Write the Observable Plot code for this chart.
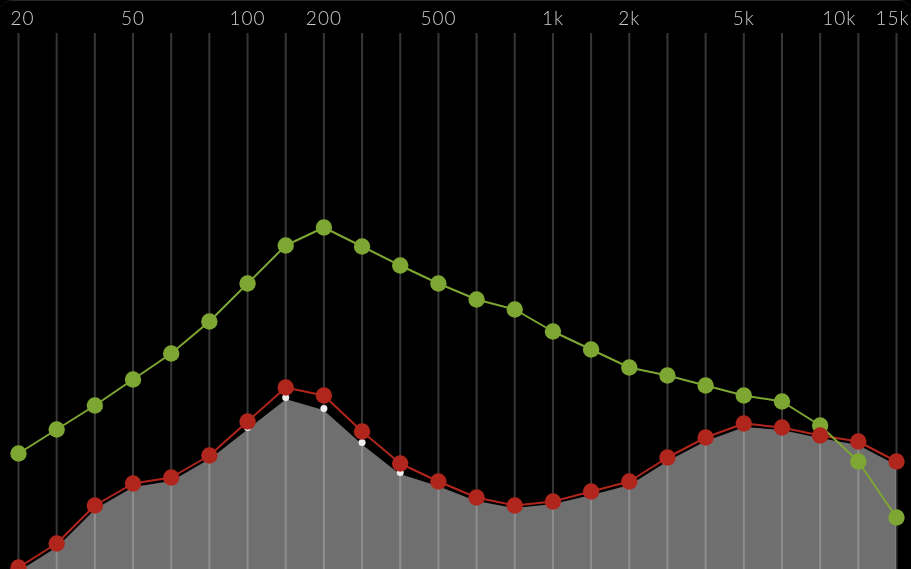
<!DOCTYPE html>
<html>
<head>
<meta charset="utf-8">
<script src="https://cdn.jsdelivr.net/npm/d3@7"></script>
<script src="https://cdn.jsdelivr.net/npm/@observablehq/plot@0.6"></script>
<style>
  html, body { margin: 0; padding: 0; background: #000; }
  #frame { width: 911px; height: 569px; overflow: hidden; background: #000;
           border-top: 1px solid #262626; border-radius: 12px 12px 0 0; box-sizing: border-box; position: relative; }
  #chart { position: absolute; top: -1px; left: 0; }
  svg { display: block; }
  svg g[aria-label="text"] { filter: grayscale(1); }
</style>
</head>
<body>
<div id="frame"><div id="chart"></div></div>
<script>
// 24 frequency bands (index positions on the x axis)
const bands = ["20","30","40","50","65","80","100","150","200","300","400","500",
               "650","800","1k","1.5k","2k","3k","4k","5k","6.5k","8k","12k","15k"];
// series levels (relative units)
const greenLevels = [11.6,14.0,16.4,19.0,21.6,24.8,28.6,32.4,34.2,32.3,30.4,28.6,
                     27.0,26.0,23.8,22.0,20.2,19.4,18.4,17.4,16.8,14.4,10.8,5.2];
const redLevels   = [0.2,2.6,6.4,8.6,9.2,11.4,14.8,18.2,17.4,13.8,10.6,8.8,
                     7.2,6.4,6.8,7.8,8.8,11.2,13.2,14.6,14.2,13.4,12.8,10.8];
const grayLevels  = [0.0,2.4,6.2,8.4,9.0,11.2,14.2,17.2,16.1,12.7,9.7,8.5,
                     7.0,6.3,6.7,7.6,8.6,11.0,13.0,14.4,14.1,13.3,12.6,10.6];
// tick labels and their band-index positions
const tickLabels = ["20","50","100","200","500","1k","2k","5k","10k","15k"];
const tickPos    = [0,3,6,8,11,14,16,19,21.5,23];

const data = bands.map((b, i) => ({i, band: b, green: greenLevels[i], red: redLevels[i], gray: grayLevels[i]}));
const ticks = tickLabels.map((t, k) => ({label: t, pos: tickPos[k]}));
const last = ticks.length - 1;

const textOpts = {x: "pos", text: "label", frameAnchor: "top", dy: -9, lineAnchor: "bottom",
                  fill: "#cccccc", fontSize: 19, fontWeight: 300, fontFamily: "Lato, sans-serif"};

const chart = Plot.plot({
  width: 911,
  height: 569,
  marginTop: 33, marginBottom: 0, marginLeft: 0, marginRight: 0,
  style: {background: "#000", overflow: "visible", letterSpacing: "1px"},
  x: {type: "linear", domain: [0, 23], range: [18, 896], axis: null},
  y: {domain: [0, 53.6], range: [569, 33], axis: null},
  marks: [
    Plot.areaY(data, {x: "i", y: "gray", fill: "#6f6f6f"}),
    Plot.ruleX(data, {x: "i", stroke: "#fff", strokeOpacity: 0.21, strokeWidth: 2}),
    Plot.line(data, {x: "i", y: "gray", stroke: "#000", strokeWidth: 3}),
    Plot.dot(data, {x: "i", y: "gray", r: 3.5, fill: "#eeeeee", stroke: "none"}),
    Plot.line(data, {x: "i", y: "red", stroke: "#b0261d", strokeWidth: 2}),
    Plot.line(data, {x: "i", y: "green", stroke: "#7ea633", strokeWidth: 2}),
    Plot.dot(data, {x: "i", y: "green", r: 8.2, fill: "#7ea633", stroke: "none"}),
    Plot.dot(data, {x: "i", y: "red", r: 8.2, fill: "#b0261d", stroke: "none"}),
    Plot.text(ticks.filter((d, k) => k > 0 && k < last), textOpts),
    Plot.text(ticks.filter((d, k) => k === 0), {...textOpts, dx: 4}),
    Plot.text(ticks.filter((d, k) => k === last), {...textOpts, dx: -4})
  ]
});
document.getElementById("chart").appendChild(chart);
</script>
</body>
</html>
